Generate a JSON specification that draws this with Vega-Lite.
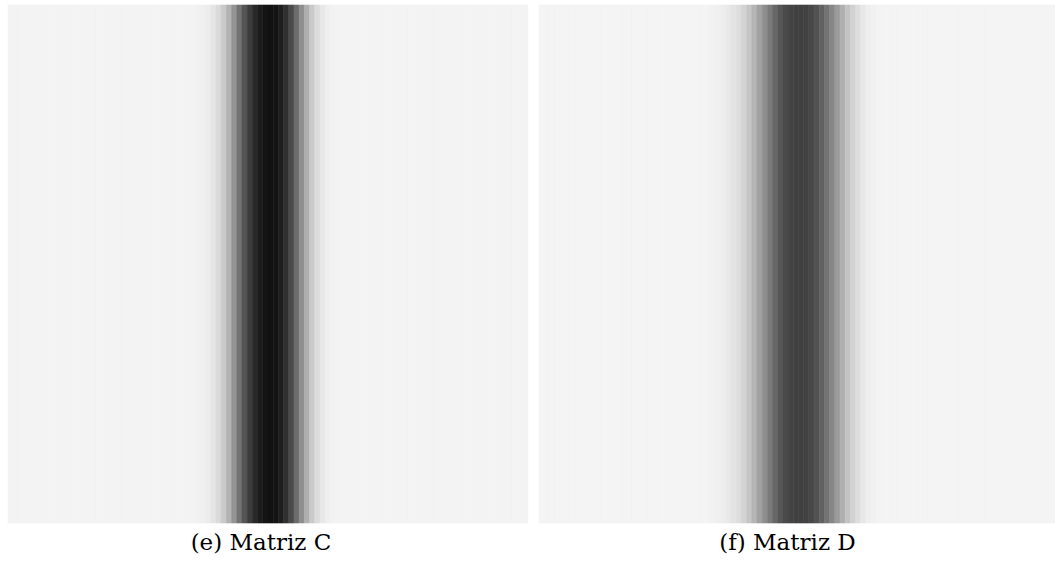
{
  "$schema": "https://vega.github.io/schema/vega-lite/v6.json",
  "padding": {"left": 7, "top": 4, "right": 0, "bottom": 0},
  "background": "white",
  "spacing": 9,
  "config": {"view": {"stroke": null}, "title": {"font": "DejaVu Serif", "fontSize": 23, "fontWeight": "normal", "color": "#000000", "orient": "bottom", "offset": 9, "anchor": "middle"}},
  "datasets": {
    "C": [
      {"col":0,"v":243},{"col":1,"v":243},{"col":2,"v":243},{"col":3,"v":243},{"col":4,"v":243},{"col":5,"v":243},{"col":6,"v":243},{"col":7,"v":243},{"col":8,"v":243},{"col":9,"v":243},
      {"col":10,"v":243},{"col":11,"v":243},{"col":12,"v":243},{"col":13,"v":243},{"col":14,"v":243},{"col":15,"v":243},{"col":16,"v":243},{"col":17,"v":243},{"col":18,"v":243},{"col":19,"v":243},
      {"col":20,"v":243},{"col":21,"v":243},{"col":22,"v":243},{"col":23,"v":243},{"col":24,"v":243},{"col":25,"v":243},{"col":26,"v":243},{"col":27,"v":243},{"col":28,"v":243},{"col":29,"v":243},
      {"col":30,"v":243},{"col":31,"v":243},{"col":32,"v":243},{"col":33,"v":243},{"col":34,"v":243},{"col":35,"v":243},{"col":36,"v":242},{"col":37,"v":240},{"col":38,"v":236},{"col":39,"v":229},
      {"col":40,"v":218},{"col":41,"v":202},{"col":42,"v":178},{"col":43,"v":148},{"col":44,"v":115},{"col":45,"v":85},{"col":46,"v":60},{"col":47,"v":40},{"col":48,"v":28},{"col":49,"v":20},
      {"col":50,"v":17},{"col":51,"v":20},{"col":52,"v":30},{"col":53,"v":48},{"col":54,"v":75},{"col":55,"v":108},{"col":56,"v":142},{"col":57,"v":175},{"col":58,"v":202},{"col":59,"v":220},
      {"col":60,"v":232},{"col":61,"v":239},{"col":62,"v":242},{"col":63,"v":243},{"col":64,"v":243},{"col":65,"v":243},{"col":66,"v":243},{"col":67,"v":243},{"col":68,"v":243},{"col":69,"v":243},
      {"col":70,"v":243},{"col":71,"v":243},{"col":72,"v":243},{"col":73,"v":243},{"col":74,"v":243},{"col":75,"v":243},{"col":76,"v":243},{"col":77,"v":243},{"col":78,"v":243},{"col":79,"v":243},
      {"col":80,"v":243},{"col":81,"v":243},{"col":82,"v":243},{"col":83,"v":243},{"col":84,"v":243},{"col":85,"v":243},{"col":86,"v":243},{"col":87,"v":243},{"col":88,"v":243},{"col":89,"v":243},
      {"col":90,"v":243},{"col":91,"v":243},{"col":92,"v":243},{"col":93,"v":243},{"col":94,"v":243},{"col":95,"v":243},{"col":96,"v":243},{"col":97,"v":243},{"col":98,"v":243},{"col":99,"v":243}
    ],
    "D": [
      {"col":0,"v":244},{"col":1,"v":244},{"col":2,"v":244},{"col":3,"v":244},{"col":4,"v":244},{"col":5,"v":244},{"col":6,"v":244},{"col":7,"v":244},{"col":8,"v":244},{"col":9,"v":244},
      {"col":10,"v":244},{"col":11,"v":244},{"col":12,"v":244},{"col":13,"v":244},{"col":14,"v":244},{"col":15,"v":244},{"col":16,"v":244},{"col":17,"v":244},{"col":18,"v":244},{"col":19,"v":244},
      {"col":20,"v":244},{"col":21,"v":244},{"col":22,"v":244},{"col":23,"v":244},{"col":24,"v":244},{"col":25,"v":244},{"col":26,"v":244},{"col":27,"v":244},{"col":28,"v":244},{"col":29,"v":244},
      {"col":30,"v":244},{"col":31,"v":244},{"col":32,"v":243},{"col":33,"v":242},{"col":34,"v":240},{"col":35,"v":237},{"col":36,"v":233},{"col":37,"v":228},{"col":38,"v":221},{"col":39,"v":211},
      {"col":40,"v":197},{"col":41,"v":181},{"col":42,"v":162},{"col":43,"v":142},{"col":44,"v":122},{"col":45,"v":103},{"col":46,"v":86},{"col":47,"v":74},{"col":48,"v":67},{"col":49,"v":64},
      {"col":50,"v":64},{"col":51,"v":66},{"col":52,"v":72},{"col":53,"v":82},{"col":54,"v":97},{"col":55,"v":115},{"col":56,"v":135},{"col":57,"v":155},{"col":58,"v":175},{"col":59,"v":195},
      {"col":60,"v":210},{"col":61,"v":222},{"col":62,"v":232},{"col":63,"v":238},{"col":64,"v":241},{"col":65,"v":243},{"col":66,"v":244},{"col":67,"v":244},{"col":68,"v":244},{"col":69,"v":244},
      {"col":70,"v":244},{"col":71,"v":244},{"col":72,"v":244},{"col":73,"v":244},{"col":74,"v":244},{"col":75,"v":244},{"col":76,"v":244},{"col":77,"v":244},{"col":78,"v":244},{"col":79,"v":244},
      {"col":80,"v":244},{"col":81,"v":244},{"col":82,"v":244},{"col":83,"v":244},{"col":84,"v":244},{"col":85,"v":244},{"col":86,"v":244},{"col":87,"v":244},{"col":88,"v":244},{"col":89,"v":244},
      {"col":90,"v":244},{"col":91,"v":244},{"col":92,"v":244},{"col":93,"v":244},{"col":94,"v":244},{"col":95,"v":244},{"col":96,"v":244},{"col":97,"v":244},{"col":98,"v":244},{"col":99,"v":244}
    ]
  },
  "hconcat": [
    {
      "width": 520, "height": 518,
      "title": {"text": "(e) Matriz C", "dx": -7},
      "data": {"name": "C"},
      "mark": {"type": "rect", "strokeWidth": 0.6},
      "encoding": {
        "x": {"field": "col", "type": "ordinal", "axis": null, "scale": {"paddingInner": 0, "paddingOuter": 0}},
        "color": {"field": "v", "type": "quantitative", "legend": null, "scale": {"domain": [0, 255], "range": ["#000000", "#ffffff"], "interpolate": "rgb"}},
        "stroke": {"field": "v", "type": "quantitative", "legend": null, "scale": {"domain": [0, 255], "range": ["#000000", "#ffffff"], "interpolate": "rgb"}}
      }
    },
    {
      "width": 519, "height": 518,
      "title": {"text": "(f) Matriz D", "dx": -11},
      "data": {"name": "D"},
      "mark": {"type": "rect", "strokeWidth": 0.6},
      "encoding": {
        "x": {"field": "col", "type": "ordinal", "axis": null, "scale": {"paddingInner": 0, "paddingOuter": 0}},
        "color": {"field": "v", "type": "quantitative", "legend": null, "scale": {"domain": [0, 255], "range": ["#000000", "#ffffff"], "interpolate": "rgb"}},
        "stroke": {"field": "v", "type": "quantitative", "legend": null, "scale": {"domain": [0, 255], "range": ["#000000", "#ffffff"], "interpolate": "rgb"}}
      }
    }
  ],
  "resolve": {"scale": {"color": "independent", "stroke": "independent"}}
}
